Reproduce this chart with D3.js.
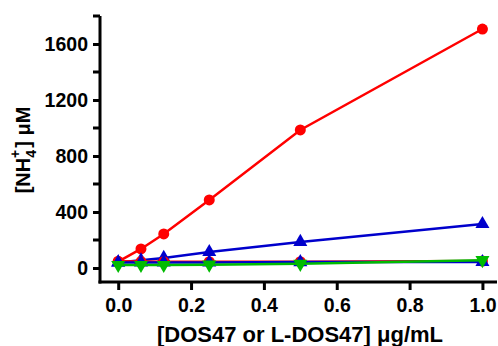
<!DOCTYPE html>
<html>
<head>
<meta charset="utf-8">
<script src="https://cdn.jsdelivr.net/npm/d3@7"></script>
<style>
  body { margin: 0; background: #fff; }
  text { font-family: "Liberation Sans", Arial, sans-serif; font-weight: bold; }
</style>
</head>
<body>
<svg id="chart" width="498" height="346"></svg>
<script>
// concentrations, ug/mL
const doses = [0, 0.0625, 0.125, 0.25, 0.5, 1.0];

// [NH4+] uM
const redHigh = [45, 136, 243, 486, 986, 1707];
const blueHigh = [40, 55, 72, 114, 186, 314];
const redFlat = [48, 46, 45, 45, 45, 50];
const blueFlat = [40, 40, 40, 40, 42, 43];
const greenFlat = [22, 22, 22, 24, 30, 56];

const xTicks = [0, 0.2, 0.4, 0.6, 0.8, 1.0];
const yTicks = [0, 400, 800, 1200, 1600];
const yMinor = [200, 600, 1000, 1400, 1800];

const svg = d3.select("#chart");

const x = d3.scaleLinear().domain([-0.05, 1.04]).range([100, 497]);
const y = d3.scaleLinear().domain([-100, 1800]).range([282, 16]);

const series = [
  { vals: redHigh, color: "#ff0000", shape: "circle" },
  { vals: blueHigh, color: "#0000cc", shape: "up" },
  { vals: redFlat, color: "#ff0000", shape: "circle" },
  { vals: blueFlat, color: "#0000cc", shape: "up" },
  { vals: greenFlat, color: "#00bb00", shape: "down" }
];

const line = d3.line().x((d, i) => x(doses[i])).y(d => y(d));

series.forEach(s => {
  svg.append("path")
    .attr("d", line(s.vals))
    .attr("fill", "none")
    .attr("stroke", s.color)
    .attr("stroke-width", 2.5);

  const sym = s.shape === "circle" ? d3.symbolCircle : d3.symbolTriangle;
  svg.append("g").selectAll("path")
    .data(s.vals)
    .enter()
    .append("path")
    .attr("d", d3.symbol().type(sym).size(s.shape === "circle" ? 95 : 85))
    .attr("transform", (d, i) => "translate(" + x(doses[i]) + "," + y(d) + ")" + (s.shape === "down" ? " rotate(180)" : ""))
    .attr("fill", s.color);
});

// Y axis
const yAxis = svg.append("g")
  .attr("transform", "translate(100,0)")
  .call(d3.axisLeft(y).tickValues(yTicks).tickSize(7).tickPadding(5).tickFormat(d3.format("d")));
yAxis.append("g").selectAll("line")
  .data(yMinor).enter().append("line")
  .attr("x1", 0).attr("x2", -7)
  .attr("y1", d => y(d)).attr("y2", d => y(d))
  .attr("stroke", "#000").attr("stroke-width", 3);

// X axis
const xAxis = svg.append("g")
  .attr("transform", "translate(0,282)")
  .call(d3.axisBottom(x).tickValues(xTicks).tickSize(8).tickPadding(8).tickFormat(d3.format(".1f")));

[yAxis, xAxis].forEach(a => {
  a.select(".domain").attr("stroke-width", 3).attr("d", null);
  a.selectAll(".tick line").attr("stroke-width", 3);
  a.selectAll("text").style("font-size", "19.5px").attr("fill", "#000");
});
yAxis.select(".domain").attr("d", "M0," + y(1800) + "V" + 283.5);
xAxis.select(".domain").attr("d", "M98.5,0H497");

// axis titles
const yl = svg.append("text")
  .attr("transform", "translate(30,150) rotate(-90)")
  .attr("text-anchor", "middle")
  .style("font-size", "20px");
yl.append("tspan").text("[NH");
yl.append("tspan").text("4").attr("dy", 6).style("font-size", "14px");
yl.append("tspan").text("+").attr("dy", -16).attr("dx", -8).style("font-size", "14px");
yl.append("tspan").text("] \u03bcM").attr("dy", 10).attr("dx", 2);

svg.append("text")
  .attr("x", 300).attr("y", 341.5)
  .attr("text-anchor", "middle")
  .style("font-size", "22px")
  .text("[DOS47 or L-DOS47] \u03bcg/mL");
</script>
</body>
</html>
